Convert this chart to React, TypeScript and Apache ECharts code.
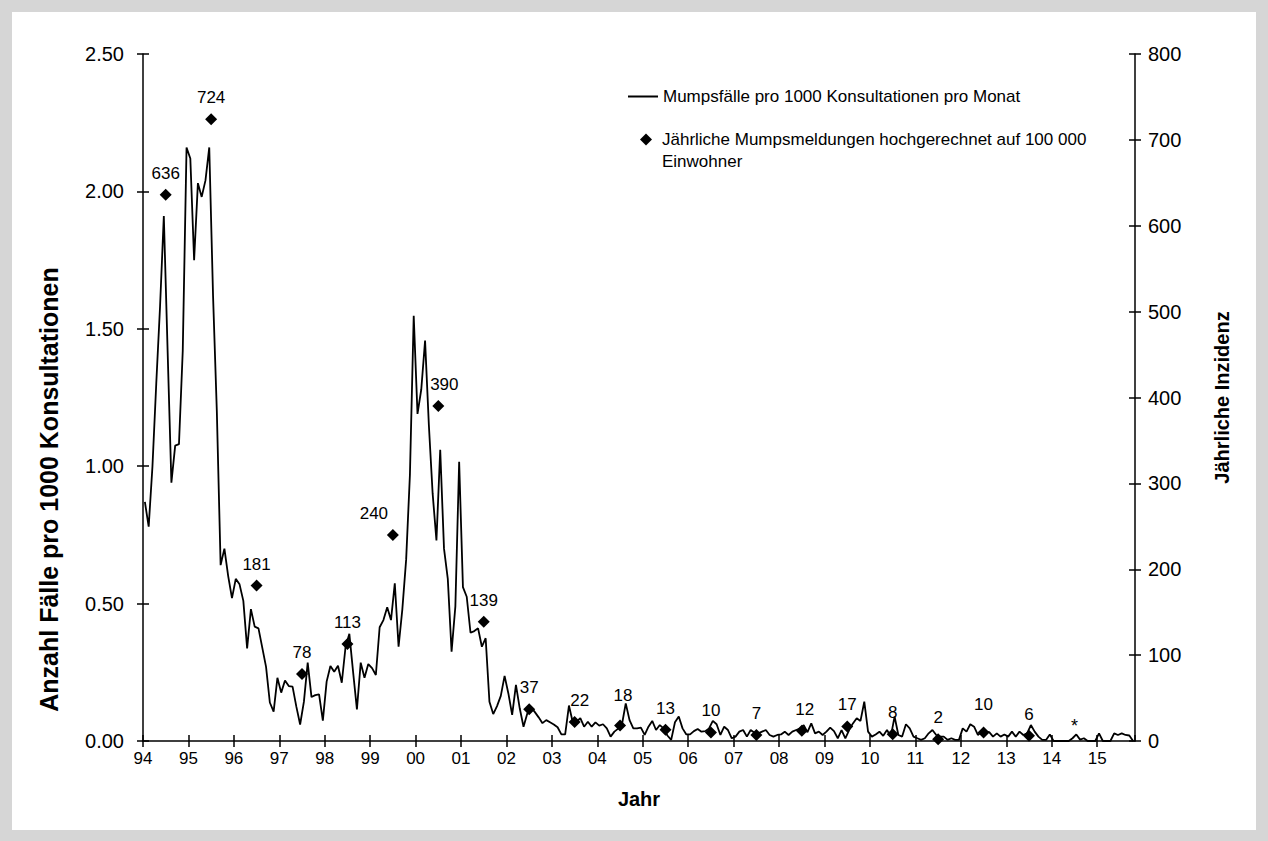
import React, { useEffect, useRef } from 'react';
import * as echarts from 'echarts';

// X-axis tick labels (one per year, January)
const yearLabels = ['94', '95', '96', '97', '98', '99', '00', '01', '02', '03', '04', '05', '06', '07', '08', '09', '10', '11', '12', '13', '14', '15'];

// Mumps cases per 1000 consultations per month, Jan 1994 .. Oct 2015
const monthlyRate = [
  // 1994
  0.87, 0.78, 1.0, 1.3, 1.58, 1.91, 1.42, 0.94, 1.075, 1.08, 1.42, 2.16,
  // 1995
  2.12, 1.75, 2.03, 1.98, 2.04, 2.16, 1.62, 1.2, 0.64, 0.7, 0.6, 0.52,
  // 1996
  0.59, 0.57, 0.51, 0.337, 0.48, 0.416, 0.41, 0.34, 0.27, 0.14, 0.107, 0.23,
  // 1997
  0.176, 0.22, 0.2, 0.198, 0.125, 0.06, 0.143, 0.285, 0.16, 0.167, 0.17, 0.074,
  // 1998
  0.216, 0.273, 0.252, 0.274, 0.212, 0.343, 0.39, 0.25, 0.115, 0.285, 0.23, 0.28,
  // 1999
  0.265, 0.24, 0.414, 0.44, 0.487, 0.44, 0.574, 0.343, 0.48, 0.66, 0.97, 1.547,
  // 2000
  1.19, 1.28, 1.457, 1.15, 0.9, 0.73, 1.06, 0.7, 0.59, 0.325, 0.49, 1.016,
  // 2001
  0.56, 0.525, 0.394, 0.4, 0.41, 0.343, 0.374, 0.143, 0.098, 0.127, 0.164, 0.237,
  // 2002
  0.173, 0.095, 0.204, 0.119, 0.052, 0.1, 0.123, 0.105, 0.086, 0.065, 0.076, 0.068,
  // 2003
  0.06, 0.05, 0.024, 0.024, 0.129, 0.068, 0.07, 0.083, 0.052, 0.07, 0.052, 0.068,
  // 2004
  0.056, 0.061, 0.046, 0.016, 0.034, 0.045, 0.06, 0.137, 0.076, 0.046, 0.046, 0.049,
  // 2005
  0.022, 0.052, 0.073, 0.04, 0.058, 0.046, 0.02, 0.004, 0.068, 0.089, 0.046, 0.024,
  // 2006
  0.024, 0.036, 0.044, 0.034, 0.036, 0.046, 0.073, 0.061, 0.022, 0.052, 0.04, 0.01,
  // 2007
  0.016, 0.034, 0.04, 0.016, 0.04, 0.03, 0.028, 0.034, 0.04, 0.022, 0.016, 0.022,
  // 2008
  0.024, 0.034, 0.022, 0.034, 0.04, 0.045, 0.058, 0.032, 0.064, 0.028, 0.034, 0.022,
  // 2009
  0.034, 0.049, 0.036, 0.01, 0.04, 0.01, 0.04, 0.064, 0.083, 0.073, 0.143, 0.034,
  // 2010
  0.016, 0.024, 0.034, 0.019, 0.04, 0.016, 0.089, 0.022, 0.016, 0.061, 0.046, 0.016,
  // 2011
  0.01, 0.004, 0.01, 0.028, 0.04, 0.022, 0.016, 0.016, 0.004, 0.01, 0.004, 0.004,
  // 2012
  0.046, 0.034, 0.061, 0.052, 0.022, 0.034, 0.034, 0.032, 0.016, 0.028, 0.016, 0.024,
  // 2013
  0.016, 0.034, 0.016, 0.034, 0.022, 0.028, 0.058, 0.034, 0.016, 0.004, 0.004, 0.024,
  // 2014
  0, 0, 0, 0, 0, 0.01, 0.024, 0.005, 0.01, 0, 0, 0,
  // 2015
  0.028, 0, 0, 0, 0.028, 0.022, 0.028, 0.022, 0.02, 0,
];

// Annual mumps notifications per 100 000 inhabitants
const annualYears = [1994, 1995, 1996, 1997, 1998, 1999, 2000, 2001, 2002, 2003, 2004, 2005, 2006, 2007, 2008, 2009, 2010, 2011, 2012, 2013];
const annualIncidence = [636, 724, 181, 78, 113, 240, 390, 139, 37, 22, 18, 13, 10, 7, 12, 17, 8, 2, 10, 6];
const pendingYear = 2014; // marked with *

const lineName = 'Mumpsfälle pro 1000 Konsultationen pro Monat';
const scatterName = 'Jährliche Mumpsmeldungen hochgerechnet auf 100 000';
const scatterName2 = 'Einwohner';

// label offsets (style only)
const labelShift: Record<number, number[]> = {
  1999: [-19, 0],
  2000: [6, 0],
  2003: [5, 0],
  2004: [3, -9],
  2008: [3, 0],
  2012: [0, -6],
};

const FONT = "'Liberation Sans', Arial, Helvetica, sans-serif";
const BLACK = '#000';

export default function App() {
  const ref = useRef<HTMLDivElement>(null);

  useEffect(() => {
    if (!ref.current) return;
    const chart = echarts.init(ref.current, undefined, { renderer: 'svg' });

    const lineData = monthlyRate.map((v, i) => [i + 0.5, v]);
    const diamondData: any[] = annualIncidence.map((v, k) => {
      const yr = annualYears[k];
      const item: any = { value: [(yr - 1994 + 0.5) * 12, v] };
      if (labelShift[yr]) item.label = { offset: labelShift[yr] };
      return item;
    });
    diamondData.push({
      value: [(pendingYear - 1994 + 0.5) * 12, 0],
      symbolSize: 1,
      itemStyle: { color: 'rgba(0,0,0,0)', opacity: 0 },
      label: { formatter: '*', distance: 6, fontSize: 18 },
    });

    const axisLineStyle = { color: BLACK, width: 1.5 };
    const tickOut = { show: true, length: 6, inside: false, lineStyle: { color: BLACK, width: 1.5 } };
    const tickIn = { show: true, length: 6, inside: true, lineStyle: { color: BLACK, width: 1.5 } };
    const titleStyle = { color: BLACK, fontSize: 20, fontWeight: 'bold', fontFamily: FONT };

    const xCommon = {
      type: 'value',
      min: 0,
      max: 262,
      interval: 12,
      position: 'bottom',
      splitLine: { show: false },
    };
    const yLeftCommon = { type: 'value', position: 'left', min: 0, max: 2.5, interval: 0.5, splitLine: { show: false } };
    const yRightCommon = { type: 'value', position: 'right', min: 0, max: 800, interval: 100, splitLine: { show: false } };

    chart.setOption({
      animation: false,
      textStyle: { fontFamily: FONT },
      grid: { left: 143, right: 133, top: 54, bottom: 100, containLabel: false },
      legend: [
        {
          data: [{ name: lineName, icon: 'rect' }],
          left: 628,
          top: 88,
          padding: 0,
          itemWidth: 30,
          itemHeight: 2,
          selectedMode: false,
          textStyle: { color: BLACK, fontSize: 17, fontFamily: FONT },
        },
        {
          data: [{ name: scatterName, icon: 'diamond' }],
          left: 640,
          top: 131,
          padding: 0,
          itemWidth: 12,
          itemHeight: 12,
          selectedMode: false,
          itemStyle: { opacity: 1 },
          textStyle: { color: BLACK, fontSize: 17, fontFamily: FONT, padding: [0, 0, 0, 5] },
        },
      ],
      graphic: [
        {
          type: 'text',
          x: 662,
          y: 161,
          style: { text: scatterName2, fill: BLACK, font: `17px ${FONT}`, verticalAlign: 'middle' },
        },
      ],
      xAxis: [
        {
          ...xCommon,
          axisLine: { show: true, onZero: false, lineStyle: axisLineStyle },
          axisTick: tickOut,
          axisLabel: {
            color: BLACK,
            fontSize: 17,
            fontFamily: FONT,
            margin: 9,
            showMaxLabel: false,
            formatter: (v: number) => (v % 12 === 0 ? yearLabels[v / 12] ?? '' : ''),
          },
          name: 'Jahr',
          nameLocation: 'middle',
          nameGap: 48,
          nameTextStyle: titleStyle,
        },
        {
          ...xCommon,
          axisLine: { show: false, onZero: false },
          axisTick: tickIn,
          axisLabel: { show: false },
        },
      ],
      yAxis: [
        {
          ...yLeftCommon,
          axisLine: { show: true, onZero: false, lineStyle: axisLineStyle },
          axisTick: tickOut,
          axisLabel: { color: BLACK, fontSize: 20, fontFamily: FONT, margin: 19, formatter: (v: number) => v.toFixed(2) },
          name: 'Anzahl Fälle pro 1000 Konsultationen',
          nameLocation: 'middle',
          nameGap: 82,
          nameTextStyle: { ...titleStyle, fontSize: 25, padding: [0, 184, 0, 0] },
        },
        {
          ...yRightCommon,
          axisLine: { show: true, onZero: false, lineStyle: axisLineStyle },
          axisTick: tickOut,
          axisLabel: { color: BLACK, fontSize: 20, fontFamily: FONT, margin: 13 },
          name: 'Jährliche Inzidenz',
          nameLocation: 'middle',
          nameRotate: 90,
          nameGap: 77,
          nameTextStyle: titleStyle,
        },
        {
          ...yLeftCommon,
          axisLine: { show: false, onZero: false },
          axisTick: tickIn,
          axisLabel: { show: false },
        },
        {
          ...yRightCommon,
          axisLine: { show: false, onZero: false },
          axisTick: tickIn,
          axisLabel: { show: false },
        },
      ],
      series: [
        {
          name: lineName,
          type: 'line',
          xAxisIndex: 0,
          yAxisIndex: 0,
          data: lineData,
          showSymbol: false,
          symbol: 'none',
          color: BLACK,
          lineStyle: { color: BLACK, width: 1.8 },
          z: 2,
        },
        {
          name: scatterName,
          type: 'scatter',
          xAxisIndex: 0,
          yAxisIndex: 1,
          data: diamondData,
          symbol: 'diamond',
          symbolSize: 12,
          itemStyle: { color: BLACK, opacity: 1 },
          color: BLACK,
          z: 3,
          label: {
            show: true,
            position: 'top',
            distance: 7,
            color: BLACK,
            opacity: 1,
            fontSize: 17,
            fontFamily: FONT,
            formatter: (p: any) => String(p.value[1]),
          },
        },
      ],
    });

    return () => chart.dispose();
  }, []);

  return (
    <div style={{ position: 'absolute', left: 0, top: 0, width: 1268, height: 841, background: '#d6d6d6' }}>
      <div style={{ position: 'absolute', left: 12, top: 12, width: 1244, height: 818, background: '#fff' }} />
      <div ref={ref} style={{ position: 'absolute', left: 0, top: 0, width: 1268, height: 841 }} />
    </div>
  );
}
